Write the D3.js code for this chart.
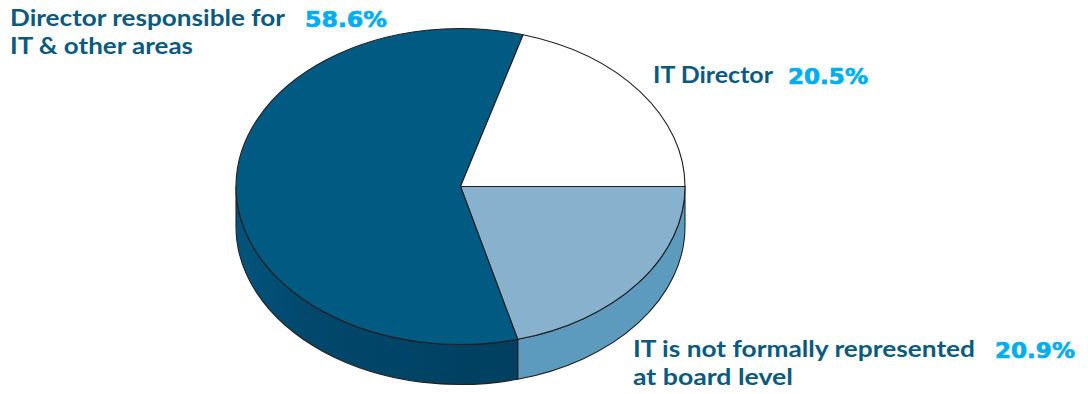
<!DOCTYPE html>
<html>
<head>
<meta charset="utf-8">
<script src="https://cdn.jsdelivr.net/npm/d3@7"></script>
<style>
  html, body { margin: 0; padding: 0; background: #fff; }
  svg { display: block; }
</style>
</head>
<body>
<svg id="chart" width="1088" height="394"></svg>
<script>
// Board representation of IT — share of respondents
const categories = ["IT is not formally represented at board level", "Director responsible for IT & other areas", "IT Director"];
const values = [20.9, 58.6, 20.5];
const labelLines = [
  ["IT is not formally represented", "at board level"],
  ["Director responsible for", "IT & other areas"],
  ["IT Director"]
];
const valueLabels = ["20.9%", "58.6%", "20.5%"];

const topColors = ["#87b1cc", "#015a82", "#ffffff"];
const sideColors = ["#5c9bbd", "url(#darkSide)", "#ffffff"];

const svg = d3.select("#chart");

// Tilted pie geometry
const cx = 460.5, cy = 186.5, rx = 224.5, ry = 158, depth = 40;

const defs = svg.append("defs");
const g1 = defs.append("linearGradient").attr("id", "darkSide")
  .attr("gradientUnits", "userSpaceOnUse")
  .attr("x1", cx - rx).attr("y1", 0).attr("x2", cx + 60).attr("y2", 0);
g1.append("stop").attr("offset", 0).attr("stop-color", "#02547c");
g1.append("stop").attr("offset", 0.25).attr("stop-color", "#01486c");
g1.append("stop").attr("offset", 1).attr("stop-color", "#003f5f");

// Clockwise from 3 o'clock: light, dark, white
const pie = d3.pie().sort(null).value(d => d)
  .startAngle(Math.PI / 2).endAngle(Math.PI / 2 + 2 * Math.PI);
const arcs = pie(values);

// Point on the ellipse for a clock angle (0 = 12 o'clock, clockwise)
const pt = (a, dy = 0) => [cx + rx * Math.sin(a), cy - ry * Math.cos(a) + dy];

const stroke = "#231f20", sw = 1.1;

// Side walls: only the front half (clock angles π/2 .. 3π/2) is visible
const sideG = svg.append("g");
arcs.forEach((d, i) => {
  const a0 = Math.max(d.startAngle, Math.PI / 2);
  const a1 = Math.min(d.endAngle, 3 * Math.PI / 2);
  if (a1 <= a0) return;
  const p0 = pt(a0), p1 = pt(a1), q1 = pt(a1, depth), q0 = pt(a0, depth);
  const large = (a1 - a0) > Math.PI ? 1 : 0;
  const path = `M${p0[0]},${p0[1]} A${rx},${ry} 0 ${large} 1 ${p1[0]},${p1[1]}` +
    ` L${q1[0]},${q1[1]} A${rx},${ry} 0 ${large} 0 ${q0[0]},${q0[1]} Z`;
  sideG.append("path").attr("d", path)
    .attr("fill", sideColors[i]).attr("stroke", stroke)
    .attr("stroke-width", sw).attr("stroke-linejoin", "round");
});

// Top faces
const topG = svg.append("g");
arcs.forEach((d, i) => {
  const p0 = pt(d.startAngle), p1 = pt(d.endAngle);
  const large = (d.endAngle - d.startAngle) > Math.PI ? 1 : 0;
  const path = `M${cx},${cy} L${p0[0]},${p0[1]} A${rx},${ry} 0 ${large} 1 ${p1[0]},${p1[1]} Z`;
  topG.append("path").attr("d", path)
    .attr("fill", topColors[i]).attr("stroke", stroke)
    .attr("stroke-width", sw).attr("stroke-linejoin", "round");
});

// Labels: each line is its own text, fitted to its set width
const labelFont = "Lato, 'Open Sans', sans-serif";
const valueFont = "'DejaVu Sans', Verdana, sans-serif";
const labelPos = [
  { x: 633, y: 357, widths: [342, 160], vx: 995, vw: 80 },
  { x: 10, y: 26, widths: [275, 183], vx: 305, vw: 82 },
  { x: 653, y: 83, widths: [120], vx: 788, vw: 80 }
];
const lineH = 28;
const labG = svg.append("g");
labelPos.forEach((p, i) => {
  labelLines[i].forEach((ln, k) => {
    labG.append("text")
      .attr("x", p.x).attr("y", p.y + k * lineH)
      .attr("font-family", labelFont).attr("font-weight", 700)
      .attr("font-size", 23).attr("fill", "#0a5a80")
      .attr("textLength", p.widths[k]).attr("lengthAdjust", "spacingAndGlyphs")
      .text(ln);
  });
  labG.append("text")
    .attr("x", p.vx).attr("y", p.y + 1)
    .attr("font-family", valueFont).attr("font-weight", 700)
    .attr("font-size", 21.5).attr("fill", "#00aeef")
    .attr("stroke", "#00aeef").attr("stroke-width", 0.7)
    .attr("textLength", p.vw).attr("lengthAdjust", "spacingAndGlyphs")
    .text(valueLabels[i]);
});
</script>
</body>
</html>
